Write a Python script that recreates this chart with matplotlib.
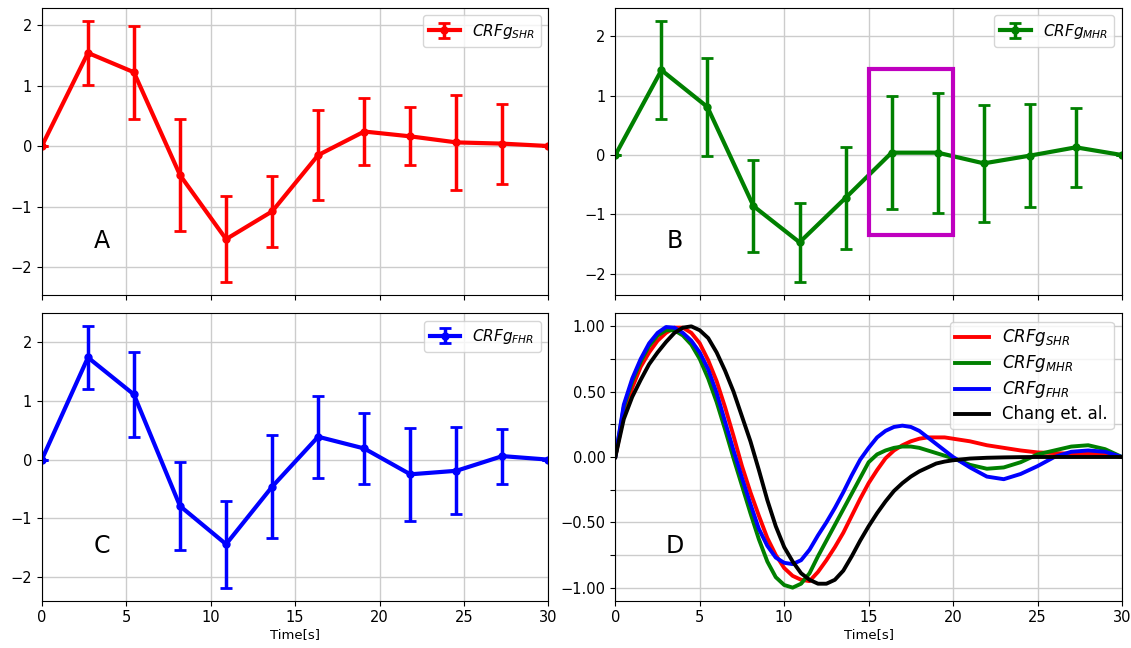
import numpy as np
import matplotlib
matplotlib.use('Agg')
import matplotlib.pyplot as plt
from matplotlib.patches import Rectangle

## estimated CRF samples with error bars (12 points over 0-30 s)
t_pts = [0.0, 2.73, 5.45, 8.18, 10.91, 13.64, 16.36, 19.09, 21.82, 24.55, 27.27, 30.0]

shr = [0.0, 1.54, 1.22, -0.48, -1.54, -1.08, -0.15, 0.24, 0.16, 0.06, 0.04, 0.0]
shr_err = [0.0, 0.53, 0.77, 0.93, 0.71, 0.59, 0.74, 0.55, 0.48, 0.78, 0.66, 0.0]

mhr = [0.0, 1.43, 0.81, -0.86, -1.47, -0.72, 0.04, 0.04, -0.14, -0.01, 0.13, 0.0]
mhr_err = [0.0, 0.83, 0.82, 0.77, 0.67, 0.86, 0.95, 1.01, 0.98, 0.87, 0.66, 0.0]

fhr = [0.0, 1.74, 1.11, -0.79, -1.44, -0.46, 0.39, 0.19, -0.25, -0.19, 0.06, 0.0]
fhr_err = [0.0, 0.53, 0.72, 0.75, 0.74, 0.88, 0.70, 0.60, 0.79, 0.74, 0.47, 0.0]

## smooth curves
t_crv = [0, 0.5, 1, 1.5, 2, 2.5, 3, 3.5, 4, 4.5, 5, 5.5, 6, 6.5, 7, 7.5, 8, 8.5, 9, 9.5,
         10, 10.5, 11, 11.5, 12, 12.5, 13, 13.5, 14, 14.5, 15, 15.5, 16, 16.5, 17, 17.5,
         18, 18.5, 19, 19.5, 20, 21, 22, 23, 24, 25, 26, 27, 28, 29, 30]

crf_shr = [0, 0.33, 0.53, 0.69, 0.80, 0.89, 0.95, 0.99, 0.99, 0.95, 0.87, 0.74, 0.58, 0.38,
           0.16, -0.07, -0.27, -0.45, -0.62, -0.75, -0.85, -0.91, -0.94, -0.95, -0.88, -0.79,
           -0.69, -0.58, -0.45, -0.32, -0.20, -0.10, -0.01, 0.05, 0.09, 0.12, 0.14, 0.15,
           0.15, 0.15, 0.14, 0.12, 0.09, 0.07, 0.05, 0.035, 0.03, 0.025, 0.025, 0.02, 0.0]

crf_mhr = [0, 0.38, 0.58, 0.73, 0.85, 0.93, 0.97, 0.97, 0.93, 0.86, 0.75, 0.60, 0.42, 0.21,
           -0.01, -0.22, -0.43, -0.63, -0.80, -0.92, -0.98, -1.0, -0.97, -0.89, -0.76, -0.64,
           -0.52, -0.40, -0.28, -0.16, -0.04, 0.02, 0.05, 0.07, 0.08, 0.08, 0.07, 0.05,
           0.03, 0.01, -0.01, -0.06, -0.09, -0.08, -0.04, 0.02, 0.05, 0.08, 0.09, 0.06, 0.0]

crf_fhr = [0, 0.40, 0.60, 0.75, 0.87, 0.95, 0.995, 0.99, 0.95, 0.89, 0.80, 0.67, 0.49, 0.27,
           0.05, -0.16, -0.36, -0.55, -0.68, -0.77, -0.81, -0.82, -0.79, -0.71, -0.60, -0.50,
           -0.39, -0.27, -0.14, -0.02, 0.07, 0.15, 0.20, 0.23, 0.24, 0.23, 0.20, 0.15,
           0.10, 0.05, 0.0, -0.08, -0.15, -0.17, -0.13, -0.07, 0.0, 0.04, 0.05, 0.04, 0.0]

crf_chang = [0, 0.29, 0.46, 0.59, 0.71, 0.80, 0.88, 0.95, 0.99, 1.0, 0.97, 0.91, 0.80, 0.66,
             0.50, 0.31, 0.12, -0.10, -0.33, -0.53, -0.69, -0.80, -0.89, -0.94, -0.97, -0.97,
             -0.94, -0.87, -0.76, -0.64, -0.53, -0.43, -0.34, -0.26, -0.20, -0.15, -0.11,
             -0.08, -0.05, -0.035, -0.025, -0.012, -0.006, -0.003, -0.001, 0, 0, 0, 0, 0, 0]

fig, axs = plt.subplots(2, 2, sharex=True, figsize=(11.31, 6.48), dpi=100)
fig.subplots_adjust(left=0.037, right=0.992, top=0.988, bottom=0.073, wspace=0.132, hspace=0.063)

panels = [(axs[0, 0], shr, shr_err, 'red', r'$CRFg_{SHR}$', 'A'),
          (axs[0, 1], mhr, mhr_err, 'green', r'$CRFg_{MHR}$', 'B'),
          (axs[1, 0], fhr, fhr_err, 'blue', r'$CRFg_{FHR}$', 'C')]

for ax, y, e, c, lab, letter in panels:
    ax.errorbar(t_pts, y, yerr=e, color=c, lw=3, elinewidth=2.5, capsize=4.5, capthick=2,
                marker='o', markersize=5, label=lab)
    ax.grid(True, color='#cccccc', lw=1)
    ax.legend(loc='upper right', fontsize=11)
    ax.text(0.118, 0.19, letter, transform=ax.transAxes, fontsize=17, ha='center', va='center')
    ax.tick_params(labelsize=10.5)

axs[0, 1].add_patch(Rectangle((15, -1.35), 5, 2.8, fill=False, edgecolor='m', lw=3, zorder=5))

axd = axs[1, 1]
axd.plot(t_crv, crf_shr, color='red', lw=2.8, label=r'$CRFg_{SHR}$')
axd.plot(t_crv, crf_mhr, color='green', lw=2.8, label=r'$CRFg_{MHR}$')
axd.plot(t_crv, crf_fhr, color='blue', lw=2.8, label=r'$CRFg_{FHR}$')
axd.plot(t_crv, crf_chang, color='black', lw=2.8, label='Chang et. al.')
yt = np.arange(-1.0, 1.01, 0.25)
axd.set_yticks(yt)
axd.set_yticklabels([('%.2f' % v).replace('-', '\u2212') if i % 2 == 0 else ''
                     for i, v in enumerate(yt)])
axd.grid(True, color='#cccccc', lw=1)
axd.legend(loc='upper right', fontsize=12, labelspacing=0.3, borderpad=0.35)
axd.text(0.118, 0.19, 'D', transform=axd.transAxes, fontsize=17, ha='center', va='center')
axd.tick_params(labelsize=10.5)

axs[0, 0].set_xlim(0, 30)
axs[1, 0].set_xticks([0, 5, 10, 15, 20, 25, 30])
axs[1, 0].set_xlabel('Time[s]', fontsize=9.5, labelpad=2)
axd.set_xlabel('Time[s]', fontsize=9.5, labelpad=2)

fig.savefig('out.png', dpi=100)
